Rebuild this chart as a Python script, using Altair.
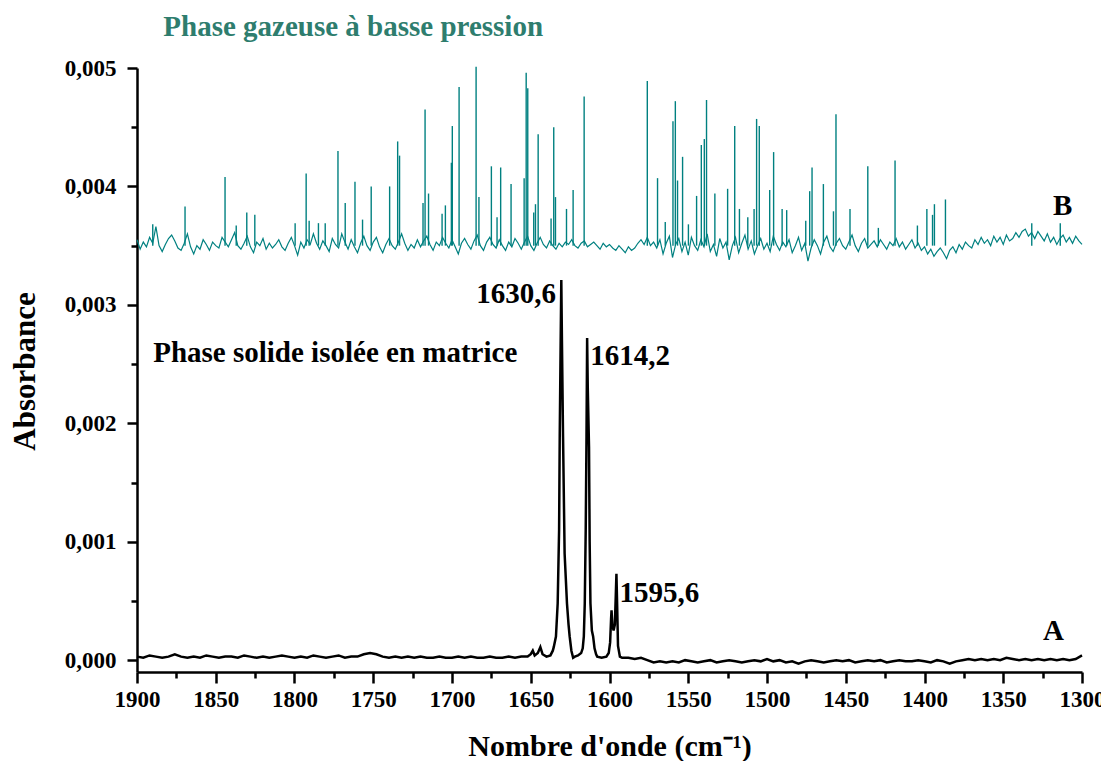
import altair as alt
import pandas as pd

# ---------------- data (absorbance in units of 1e-5) ----------------
# Spectrum B (gas phase) baseline, sampled every 2 cm-1 from 1900 to 1300
b_base_wn = list(range(1900, 1299, -2))
b_base_1e5 = [
    355, 347, 353, 349, 357, 352, 366, 350, 345, 351, 356, 359, 354, 348, 346,
    352, 360, 349, 343, 350, 347, 355, 351, 346, 353, 350, 348, 357, 353, 349,
    355, 361, 350, 347, 352, 358, 349, 344, 353, 350, 356, 347, 352, 348, 351,
    355, 349, 346, 352, 357, 350, 342, 353, 348, 355, 351, 360, 352, 347, 354,
    350, 345, 356, 351, 348, 360, 353, 347, 355, 349, 344, 352, 358, 350, 346,
    353, 357, 349, 344, 351, 356, 350, 347, 353, 360, 352, 346, 351, 348, 355,
    349, 354, 358, 351, 346, 353, 350, 357, 352, 348, 355, 349, 343, 352, 356,
    351, 347, 354, 359, 350, 346, 353, 357, 351, 348, 355, 350, 346, 353, 349,
    356, 352, 347, 353, 358, 350, 346, 352, 357, 351, 348, 354, 350, 347, 352,
    349, 353, 351, 355, 350, 348, 352, 354, 349, 351, 353, 350, 347, 352, 349,
    351, 348, 346, 350, 347, 344, 349, 346, 348, 352, 355, 351, 357, 350, 353,
    348, 355, 343, 352, 358, 340, 351, 356, 345, 353, 342, 357, 350, 346, 355,
    349, 360, 345, 351, 341, 356, 348, 353, 338, 350, 357, 344, 352, 359, 347,
    354, 343, 350, 356, 347, 352, 345, 358, 351, 346, 353, 349, 355, 344, 350,
    357, 346, 352, 337, 348, 355, 350, 343, 353, 358, 349, 345, 352, 356, 350,
    347, 353, 359, 350, 345, 352, 356, 348, 351, 354, 349, 355, 351, 347, 353,
    350, 356, 349, 353, 347, 351, 355, 348, 352, 346, 349, 343, 347, 341, 345,
    348, 344, 339, 346, 349, 344, 351, 347, 353, 350, 348, 355, 351, 357, 352,
    355, 350, 358, 353, 357, 351, 359, 354, 356, 361, 357, 362, 364, 358, 361,
    356, 362, 358, 354, 360, 353, 357, 351, 356, 359, 353, 357, 352, 358, 354,
    351,
]

# Spectrum B rovibrational lines: position (cm-1) and top (1e-5)
b_peak_wn = [
    1890.0, 1869.5, 1844.1, 1837.0, 1830.3, 1825.2, 1799.6, 1792.6, 1790.7, 1784.8,
    1780.5, 1772.4, 1767.8, 1761.6, 1756.8, 1751.3, 1739.6, 1734.5, 1733.3, 1718.4,
    1717.1, 1714.9, 1706.3, 1704.2, 1700.4, 1699.8, 1695.5, 1684.7, 1682.9, 1675.0,
    1671.4, 1669.1, 1662.5, 1654.2, 1652.9, 1651.9, 1648.1, 1647.0, 1645.3, 1637.1,
    1635.4, 1634.3, 1627.3, 1623.1, 1616.1, 1576.0, 1569.5, 1564.6, 1559.7, 1558.2,
    1556.8, 1553.6, 1549.9, 1544.7, 1541.7, 1539.8, 1538.4, 1533.1, 1525.0, 1520.5,
    1517.5, 1512.2, 1508.2, 1506.6, 1504.9, 1498.3, 1495.8, 1490.4, 1487.5, 1475.4,
    1472.9, 1471.4, 1464.2, 1457.8, 1456.2, 1447.3, 1436.0, 1429.3, 1418.7, 1404.5,
    1398.5, 1394.9, 1393.7, 1386.7, 1331.9, 1313.8,
]
b_peak_top_1e5 = [
    368, 383, 408, 367, 378, 376, 369, 411, 371, 369,
    369, 430, 386, 404, 372, 400, 400, 438, 426, 386,
    465, 394, 377, 384, 420, 451, 484, 501, 391, 417,
    374, 416, 402, 407, 496, 483, 378, 385, 444, 373,
    450, 391, 381, 397, 476, 489, 407, 370, 455, 472,
    405, 425, 368, 392, 435, 440, 473, 394, 398, 451,
    381, 374, 381, 457, 451, 397, 429, 381, 380, 371,
    396, 416, 402, 379, 461, 381, 417, 365, 422, 367,
    381, 376, 385, 389, 369, 369,
]
b_peak_base_1e5 = 350

# Spectrum A (matrix isolated) : baseline 1900-1656 every 4 cm-1
a_base1_wn = list(range(1900, 1655, -4))
a_base1_1e5 = [
    3, 2, 4, 3, 2, 3, 5, 3, 2, 3,
    2, 4, 3, 2, 3, 3, 2, 4, 3, 2,
    3, 2, 3, 4, 3, 2, 3, 2, 4, 3,
    2, 3, 4, 2, 3, 3, 5, 6, 5, 3,
    2, 3, 2, 3, 2, 3, 2, 2, 3, 2,
    2, 3, 2, 3, 2, 2, 3, 2, 2, 3,
    2, 3,
]
# Spectrum A : band region
a_band_wn = [
    1652.0, 1650.0, 1648.7, 1647.5, 1645.5, 1643.9, 1642.5, 1640.0, 1637.5, 1636.0,
    1635.4, 1634.0, 1632.9, 1632.0, 1631.6, 1631.0, 1630.6, 1630.2, 1629.5, 1628.5,
    1627.0, 1626.0, 1625.3, 1624.2, 1623.1, 1622.0, 1620.0, 1618.0, 1617.0, 1616.3,
    1615.7, 1615.1, 1614.6, 1614.2, 1613.8, 1613.0, 1612.6, 1612.1, 1611.2, 1610.4,
    1609.5, 1608.5, 1607.8, 1605.0, 1602.0, 1600.5, 1599.6, 1599.0, 1598.7, 1598.2,
    1597.4, 1596.6, 1596.0, 1595.6, 1595.2, 1594.6, 1593.4, 1592.0,
]
a_band_1e5 = [
    3, 5, 8, 4, 6, 11, 5, 3, 4, 8,
    11, 20, 48, 110, 189, 270, 321, 270, 189, 90,
    48, 30, 20, 8, 2, 3, 4, 6, 10, 20,
    48, 110, 189, 272, 230, 180, 100, 48, 25, 20,
    10, 5, 3, 2, 3, 6, 15, 35, 42, 30,
    25, 30, 55, 73, 50, 12, 3, 2,
]
# Spectrum A : baseline 1588-1300 every 4 cm-1
a_base2_wn = list(range(1588, 1299, -4))
a_base2_1e5 = [
    2, 1, 2, 0, -2, -1, -2, -1, -2, 0,
    -1, -2, -1, 0, -2, -1, 0, -1, -2, -1,
    0, -1, 1, -1, 0, -2, -1, -3, -1, 0,
    -1, -2, -1, 0, -1, 0, -2, -1, 0, -1,
    0, -2, -1, 0, -1, -1, 0, -1, -2, 0,
    -1, -3, -1, 0, 1, 0, 1, 0, 1, 0,
    2, 1, 0, 1, 0, 1, 0, 1, 0, 1,
    0, 1, 4,
]

# annotations
lab_text = ["Phase solide isolée en matrice", "1614,2", "1595,6", "B", "A",
            "Phase gazeuse à basse pression"]
lab_wn = [1889.7, 1612.3, 1593.6, 1318.4, 1324.7, 1883.3]
lab_abs = [0.002517, 0.00249, 0.000492, 0.003755, 0.000169, 0.005266]
lab_color = ["#000000", "#000000", "#000000", "#000000", "#000000", "#2E7D6E"]
rlab_text = ["1630,6"]
rlab_wn = [1633.9]
rlab_abs = [0.003013]

# ---------------- tables ----------------
S = 1e-5
dfA = pd.DataFrame({
    "wn": a_base1_wn + a_band_wn + a_base2_wn,
    "abs": [v * S for v in a_base1_1e5 + a_band_1e5 + a_base2_1e5],
})
dfB = pd.DataFrame({"wn": b_base_wn, "abs": [v * S for v in b_base_1e5]})
dfP = pd.DataFrame({
    "wn": b_peak_wn,
    "abs": [b_peak_base_1e5 * S] * len(b_peak_wn),
    "top": [v * S for v in b_peak_top_1e5],
})
dfL = pd.DataFrame({"wn": lab_wn, "abs": lab_abs, "text": lab_text, "color": lab_color})
dfR = pd.DataFrame({"wn": rlab_wn, "abs": rlab_abs, "text": rlab_text})

FONT = "Liberation Serif"
TEAL = "#008080"

major_y = "abs(datum.value*1000 - round(datum.value*1000)) < 0.01"
major_x = "datum.value % 50 == 0"

xscale = alt.Scale(domain=[1300, 1900], reverse=True, nice=False, zero=False)
yscale = alt.Scale(domain=[-0.0001, 0.005], nice=False, zero=False)

xaxis = alt.Axis(
    title="Nombre d'onde (cm⁻¹)",
    values=list(range(1900, 1299, -25)),
    labelExpr=f"{major_x} ? format(datum.value, 'd') : ''",
    tickSize={"condition": {"test": major_x, "value": 11}, "value": 6},
    tickWidth=2.5, tickColor="black",
    domainWidth=2.5, domainColor="black",
    labelFont=FONT, labelFontWeight="bold", labelFontSize=23, labelColor="black",
    labelPadding=5, labelFlush=False, labelOverlap=False,
    titleFont=FONT, titleFontWeight="bold", titleFontSize=30, titleColor="black",
    titleY=83, titleBaseline="alphabetic",
    grid=False,
)
yaxis = alt.Axis(
    title="Absorbance",
    values=[i * 0.0005 for i in range(11)],
    labelExpr=f"{major_y} ? replace(format(datum.value, '.3f'), '.', ',') : ''",
    tickSize={"condition": {"test": major_y, "value": 10}, "value": 6},
    tickWidth=2.5, tickColor="black",
    domainWidth=2.5, domainColor="black",
    labelFont=FONT, labelFontWeight="bold", labelFontSize=23, labelColor="black",
    labelPadding=11, labelFlush=False, labelOverlap=False,
    titleFont=FONT, titleFontWeight="bold", titleFontSize=31, titleColor="black",
    titleAngle=-90, titleX=-112, titleY=303, titleAlign="center", titleBaseline="middle",
    grid=False,
)


def X():
    return alt.X("wn:Q", scale=xscale, axis=xaxis)


def Y():
    return alt.Y("abs:Q", scale=yscale, axis=yaxis)


lineA = alt.Chart(dfA).mark_line(color="black", strokeWidth=2.5).encode(x=X(), y=Y())
lineB = alt.Chart(dfB).mark_line(color=TEAL, strokeWidth=1.2).encode(x=X(), y=Y())
rulesB = alt.Chart(dfP).mark_rule(color=TEAL, strokeWidth=1.4).encode(
    x=X(), y=Y(), y2="top:Q")
textL = alt.Chart(dfL).mark_text(
    align="left", baseline="alphabetic", font=FONT, fontWeight="bold", fontSize=29
).encode(x=X(), y=Y(), text="text:N", color=alt.Color("color:N", scale=None))
textR = alt.Chart(dfR).mark_text(
    align="right", baseline="alphabetic", font=FONT, fontWeight="bold", fontSize=29,
    color="black"
).encode(x=X(), y=Y(), text="text:N")

chart = alt.layer(lineA, lineB, rulesB, textL, textR).properties(
    width=945, height=604,
    autosize=alt.AutoSizeParams(type="none"),
    padding={"left": 129, "top": 60, "right": 19, "bottom": 89},
    background="white",
).configure_view(stroke=None)

chart.save("out.html", embed_options={"renderer": "svg", "actions": False})
